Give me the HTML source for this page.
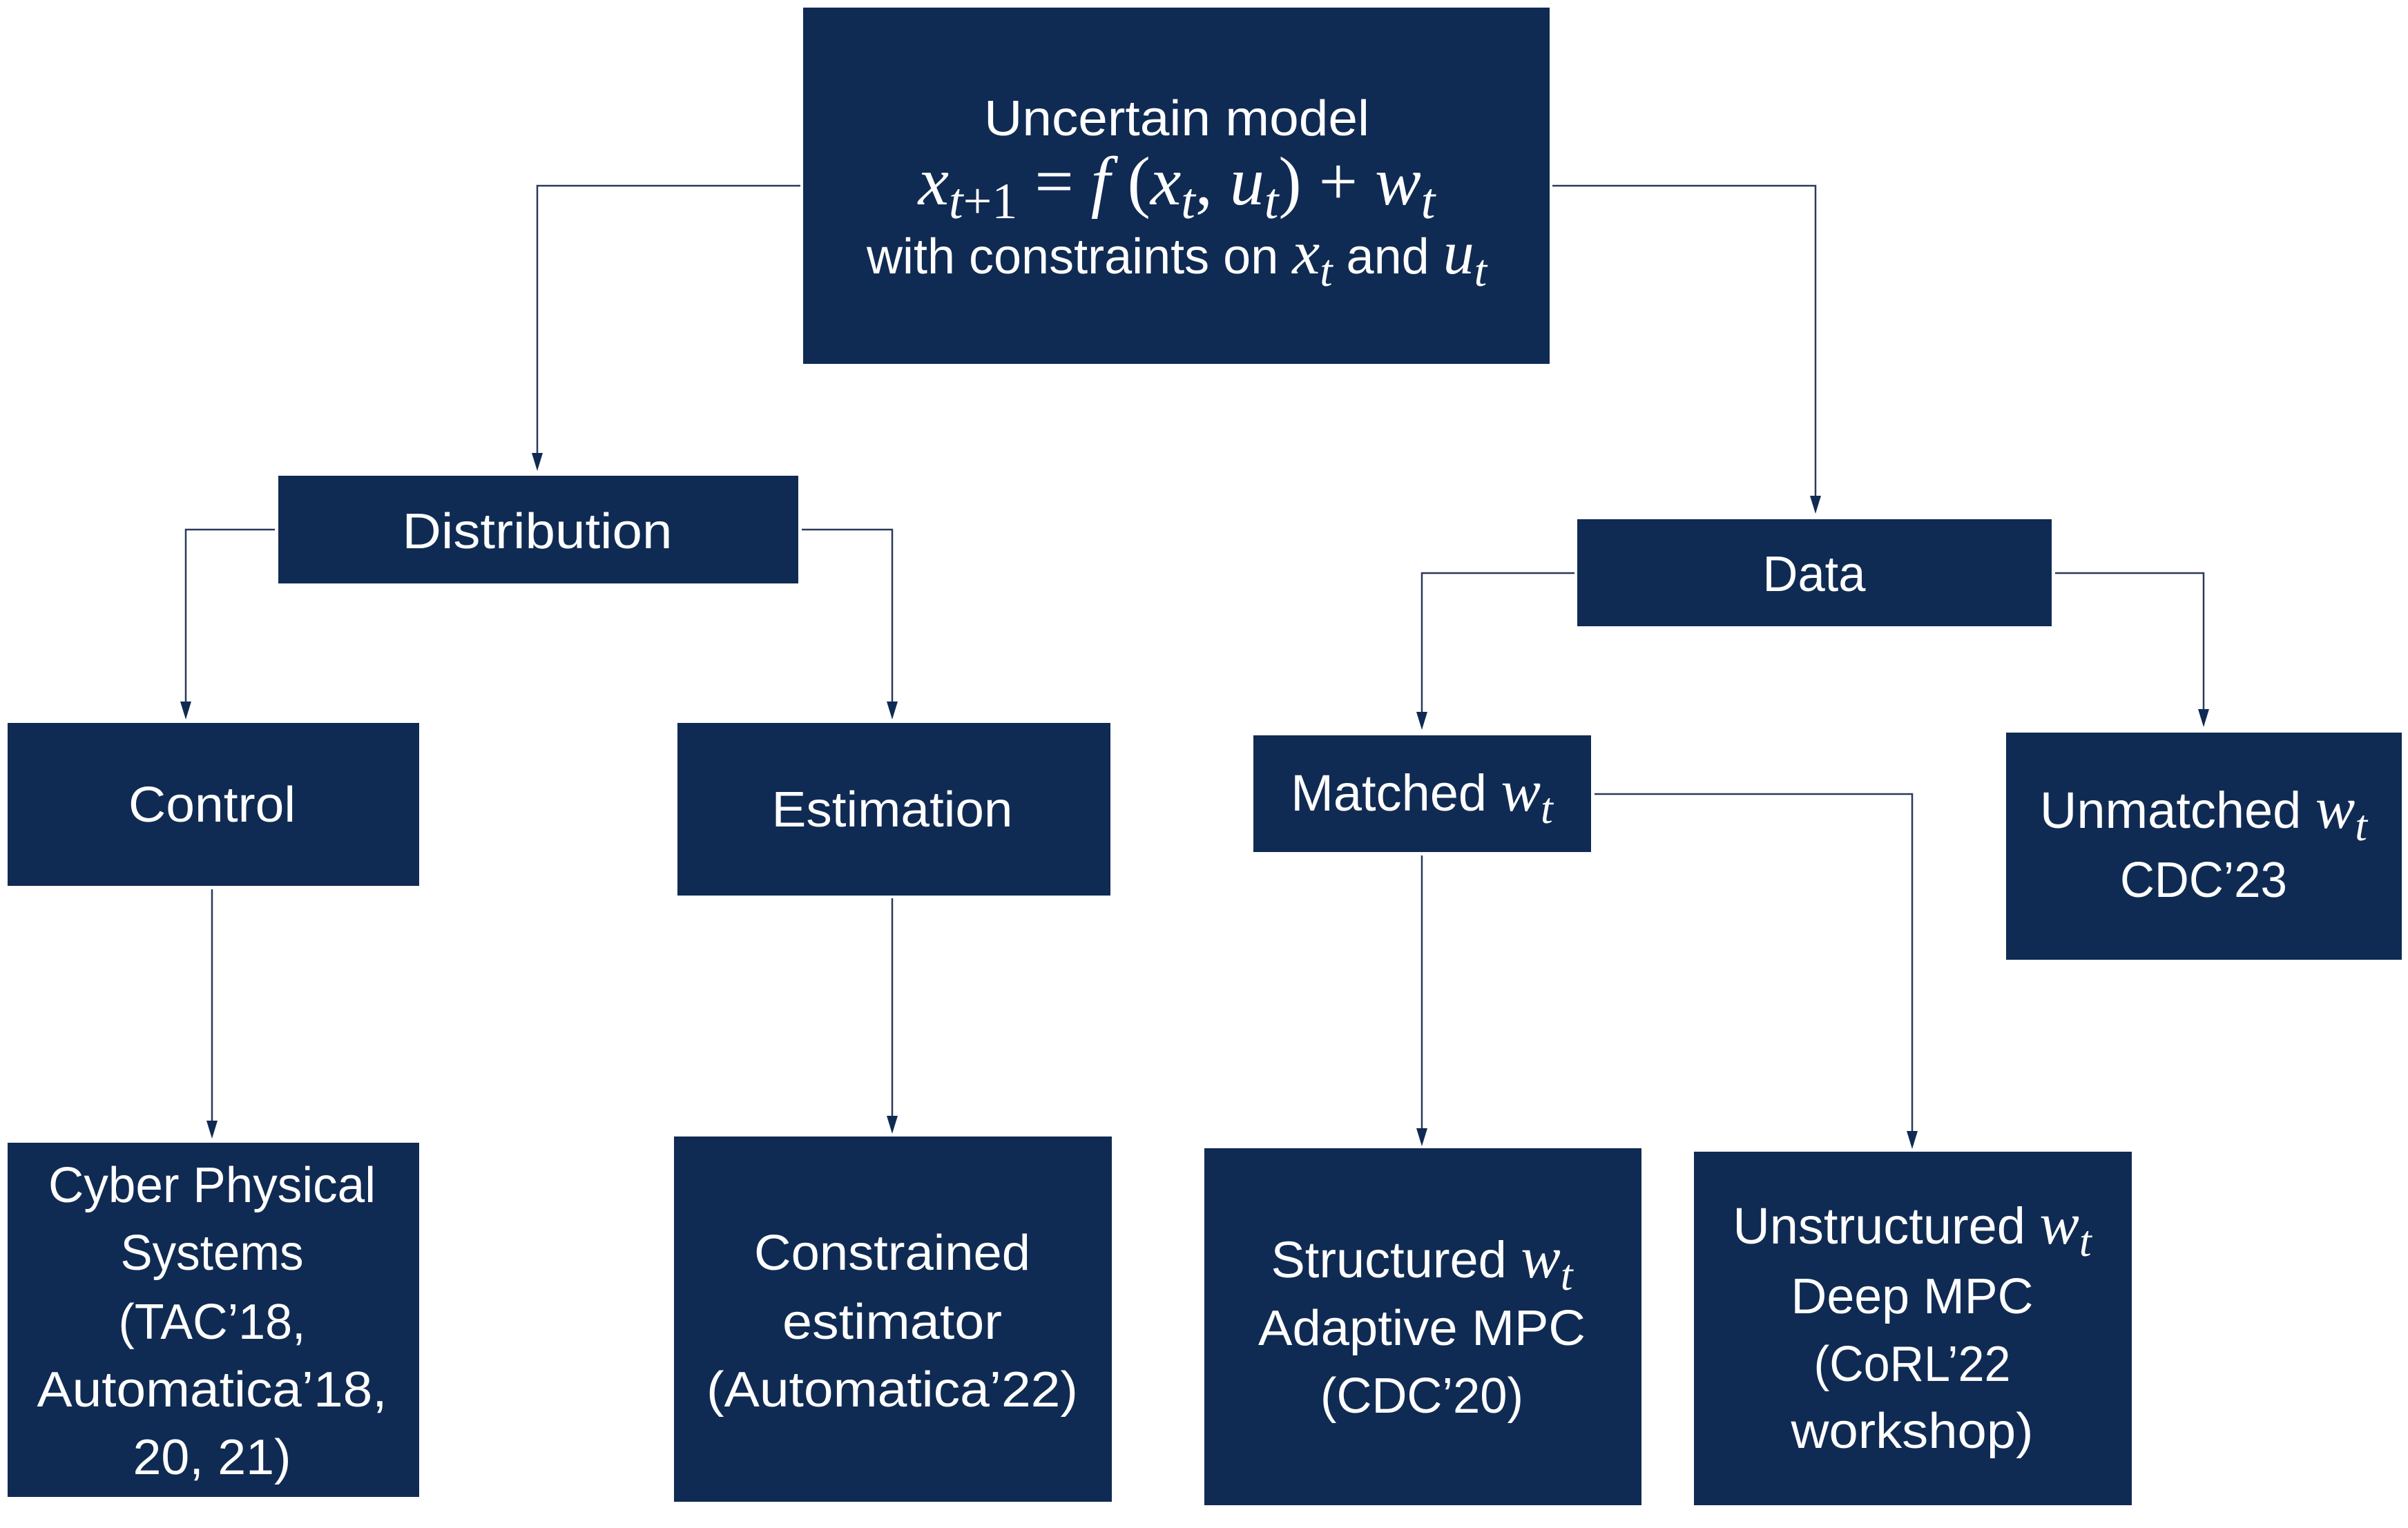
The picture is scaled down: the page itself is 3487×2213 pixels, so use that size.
<!DOCTYPE html>
<html><head><meta charset="utf-8"><style>html,body{margin:0;padding:0;background:#fff}svg{display:block}</style></head>
<body>
<svg width="3487" height="2213" viewBox="0 0 3487 2213" xmlns="http://www.w3.org/2000/svg">
<g fill="#102b53">
<rect x="1163" y="11" width="1081" height="516"/>
<rect x="403" y="689" width="753" height="156"/>
<rect x="2284" y="752" width="687" height="155"/>
<rect x="11" y="1047" width="596" height="236"/>
<rect x="981" y="1047" width="627" height="250"/>
<rect x="1815" y="1065" width="489" height="169"/>
<rect x="2905" y="1061" width="573" height="329"/>
<rect x="11" y="1655" width="596" height="513"/>
<rect x="976" y="1646" width="634" height="529"/>
<rect x="1744" y="1663" width="633" height="517"/>
<rect x="2453" y="1668" width="634" height="512"/>
</g>
<g fill="none" stroke="#2a3a5c" stroke-width="2.5">
<polyline points="1159,269 778,269 778,660"/>
<polyline points="2248,269 2629,269 2629,722"/>
<polyline points="398,767 269,767 269,1020"/>
<polyline points="1161,767 1292,767 1292,1020"/>
<polyline points="2280,830 2059,830 2059,1035"/>
<polyline points="2976,830 3191,830 3191,1031"/>
<polyline points="307,1288 307,1627"/>
<polyline points="1292,1301 1292,1620"/>
<polyline points="2059,1239 2059,1638"/>
<polyline points="2309,1150 2769,1150 2769,1642"/>
</g>
<g fill="#102b53">
<polygon points="770,656 786,656 778,682"/>
<polygon points="2621,718 2637,718 2629,744"/>
<polygon points="261,1016 277,1016 269,1042"/>
<polygon points="1284,1016 1300,1016 1292,1042"/>
<polygon points="2051,1031 2067,1031 2059,1057"/>
<polygon points="3183,1027 3199,1027 3191,1053"/>
<polygon points="299,1623 315,1623 307,1649"/>
<polygon points="1284,1616 1300,1616 1292,1642"/>
<polygon points="2051,1634 2067,1634 2059,1660"/>
<polygon points="2761,1638 2777,1638 2769,1664"/>
</g>
<g fill="#fff" font-family="Liberation Sans, sans-serif" font-size="72" text-anchor="middle">
<text x="1704" y="196" textLength="558" lengthAdjust="spacingAndGlyphs">Uncertain model</text>
<text x="1704" y="296" font-family="Liberation Serif, serif" font-size="100"><tspan font-style="italic">x</tspan><tspan font-style="italic" font-size="74" dy="20">t</tspan><tspan font-size="74">+1</tspan><tspan dy="-20"> = </tspan><tspan font-style="italic">f</tspan><tspan> (</tspan><tspan font-style="italic">x</tspan><tspan font-style="italic" font-size="74" dy="20">t</tspan><tspan dy="-20">, </tspan><tspan font-style="italic">u</tspan><tspan font-style="italic" font-size="74" dy="20">t</tspan><tspan dy="-20">) + </tspan><tspan font-style="italic">w</tspan><tspan font-style="italic" font-size="74" dy="20">t</tspan></text>
<text x="1704" y="396" font-size="72">with constraints on <tspan font-family="Liberation Serif, serif" font-style="italic" font-size="90">x</tspan><tspan font-family="Liberation Serif, serif" font-style="italic" font-size="66" dy="18">t</tspan><tspan dy="-18"> and </tspan><tspan font-family="Liberation Serif, serif" font-style="italic" font-size="90">u</tspan><tspan font-family="Liberation Serif, serif" font-style="italic" font-size="66" dy="18">t</tspan></text>
<text x="778" y="794" textLength="391" lengthAdjust="spacingAndGlyphs">Distribution</text>
<text x="2627" y="856" textLength="149" lengthAdjust="spacingAndGlyphs">Data</text>
<text x="307" y="1190" textLength="242" lengthAdjust="spacingAndGlyphs">Control</text>
<text x="1292" y="1197" textLength="349" lengthAdjust="spacingAndGlyphs">Estimation</text>
<text x="2059" y="1174" font-size="74">Matched  <tspan font-family="Liberation Serif, serif" font-style="italic" font-size="86">w</tspan><tspan font-family="Liberation Serif, serif" font-style="italic" font-size="64" dy="18">t</tspan></text>
<text x="3191" y="1199" font-size="74">Unmatched <tspan font-family="Liberation Serif, serif" font-style="italic" font-size="86">w</tspan><tspan font-family="Liberation Serif, serif" font-style="italic" font-size="64" dy="18">t</tspan></text>
<text x="3191" y="1299" textLength="242" lengthAdjust="spacingAndGlyphs">CDC’23</text>
<text x="307" y="1741" textLength="474" lengthAdjust="spacingAndGlyphs">Cyber Physical</text>
<text x="307" y="1839" textLength="265" lengthAdjust="spacingAndGlyphs">Systems</text>
<text x="307" y="1939" textLength="271" lengthAdjust="spacingAndGlyphs">(TAC’18,</text>
<text x="307" y="2037" textLength="507" lengthAdjust="spacingAndGlyphs">Automatica’18,</text>
<text x="307" y="2135" textLength="229" lengthAdjust="spacingAndGlyphs">20, 21)</text>
<text x="1292" y="1839" textLength="400" lengthAdjust="spacingAndGlyphs">Constrained</text>
<text x="1292" y="1939" textLength="318" lengthAdjust="spacingAndGlyphs">estimator</text>
<text x="1292" y="2037" textLength="538" lengthAdjust="spacingAndGlyphs">(Automatica’22)</text>
<text x="2059" y="1850" font-size="74">Structured  <tspan font-family="Liberation Serif, serif" font-style="italic" font-size="86">w</tspan><tspan font-family="Liberation Serif, serif" font-style="italic" font-size="64" dy="18">t</tspan></text>
<text x="2059" y="1948" textLength="474" lengthAdjust="spacingAndGlyphs">Adaptive MPC</text>
<text x="2059" y="2046" textLength="294" lengthAdjust="spacingAndGlyphs">(CDC’20)</text>
<text x="2769" y="1801" font-size="74">Unstructured  <tspan font-family="Liberation Serif, serif" font-style="italic" font-size="86">w</tspan><tspan font-family="Liberation Serif, serif" font-style="italic" font-size="64" dy="18">t</tspan></text>
<text x="2769" y="1902" textLength="351" lengthAdjust="spacingAndGlyphs">Deep MPC</text>
<text x="2769" y="2000" textLength="285" lengthAdjust="spacingAndGlyphs">(CoRL’22</text>
<text x="2769" y="2097" textLength="351" lengthAdjust="spacingAndGlyphs">workshop)</text>
</g>
</svg>
</body></html>
